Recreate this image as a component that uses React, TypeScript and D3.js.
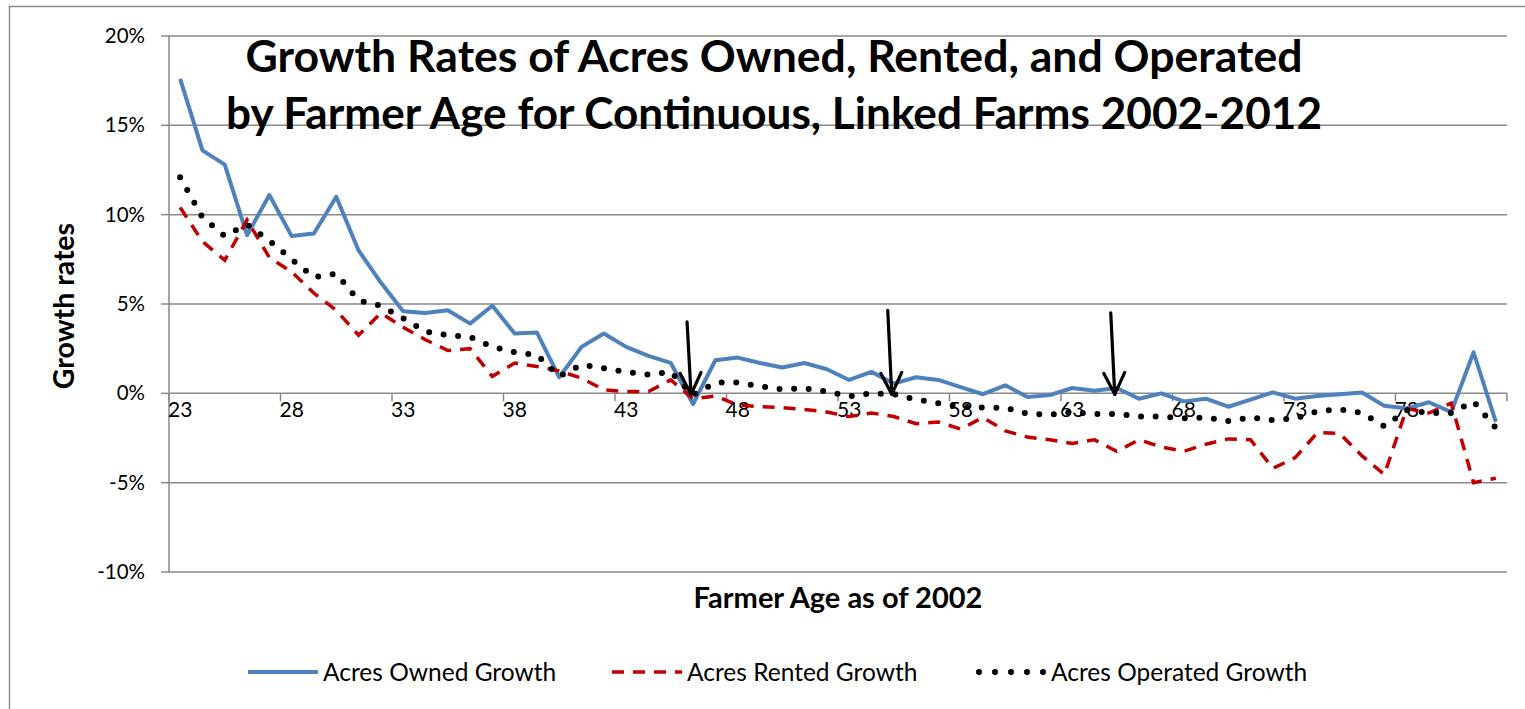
import React, { useEffect, useRef } from "react";
import * as d3 from "d3";

const ages = [23,24,25,26,27,28,29,30,31,32,33,34,35,36,37,38,39,40,41,42,43,44,45,46,47,48,49,50,51,52,53,54,55,56,57,58,59,60,61,62,63,64,65,66,67,68,69,70,71,72,73,74,75,76,77,78,79,80,81,82];

const owned = [17.6,13.6,12.8,8.85,11.1,8.8,8.95,11.0,8.0,6.2,
  4.6,4.5,4.65,3.9,4.9,3.35,3.4,0.9,2.6,3.35,
  2.6,2.1,1.7,-0.6,1.85,2.0,1.7,1.45,1.7,1.35,
  0.75,1.2,0.55,0.9,0.75,0.35,-0.05,0.45,-0.2,-0.1,
  0.3,0.15,0.3,-0.3,0.0,-0.45,-0.3,-0.75,-0.35,0.05,
  -0.3,-0.15,-0.05,0.05,-0.7,-0.85,-0.5,-1.05,2.3,-1.6];

const rented = [10.4,8.5,7.45,9.7,7.6,6.8,5.6,4.65,3.25,4.5,
  3.7,3.0,2.4,2.5,0.95,1.7,1.5,1.25,0.85,0.2,
  0.1,0.1,0.75,-0.3,-0.15,-0.65,-0.75,-0.8,-0.9,-1.05,
  -1.3,-1.1,-1.3,-1.7,-1.6,-2.0,-1.35,-2.1,-2.45,-2.6,
  -2.8,-2.6,-3.25,-2.6,-3.0,-3.25,-2.85,-2.55,-2.6,-4.2,
  -3.6,-2.2,-2.25,-3.5,-4.55,-0.85,-1.1,-0.55,-5.0,-4.75];

const operated = [12.1,9.85,8.8,9.45,8.55,7.5,6.5,6.7,5.2,4.9,
  4.2,3.45,3.25,3.15,2.6,2.3,2.15,0.95,1.6,1.4,
  1.2,1.05,1.2,-0.1,0.6,0.6,0.4,0.22,0.28,0.1,
  -0.17,0.0,-0.05,-0.35,-0.55,-0.75,-0.8,-0.8,-1.15,-1.2,
  -1.05,-1.15,-1.15,-1.3,-1.3,-1.4,-1.35,-1.55,-1.35,-1.5,
  -1.4,-1.0,-0.9,-1.1,-1.85,-0.95,-1.1,-1.1,-0.45,-1.95];

const yTicks = [-10, -5, 0, 5, 10, 15, 20];
const xLabelAges = [23, 28, 33, 38, 43, 48, 53, 58, 63, 68, 73, 78];

const seriesNames = ["Acres Owned Growth", "Acres Rented Growth", "Acres Operated Growth"];

const arrowAges = [46, 55, 65];
const arrowTops = [4.0, 4.65, 4.5];

const titleLines = [
  "Growth Rates of Acres Owned, Rented, and Operated",
  "by Farmer Age for Continuous, Linked Farms 2002-2012",
];
const titleWidths = [1057, 1096];

const FONT = "Lato, 'Open Sans', sans-serif";

export default function App() {
  const ref = useRef<SVGSVGElement | null>(null);

  useEffect(() => {
    const svg = d3.select(ref.current);
    svg.selectAll("*").remove();

    const W = 1525, H = 709;
    const left = 169, right = 1507, top = 36, bottom = 572;

    svg.append("rect").attr("x", 0).attr("y", 0).attr("width", W).attr("height", H).attr("fill", "#fff");
    svg.append("rect").attr("x", 9.5).attr("y", 6.5).attr("width", W + 20).attr("height", H + 20)
      .attr("fill", "none").attr("stroke", "#8c8c8c").attr("stroke-width", 1.5);

    const x = d3.scaleBand<number>().domain(ages).range([left, right]).paddingInner(0).paddingOuter(0);
    const bw = x.bandwidth();
    const xc = (a: number) => (x(a) as number) + bw / 2;
    const y = d3.scaleLinear().domain([-10, 20]).range([bottom, top]);

    const g = svg.append("g");
    g.selectAll("line.grid").data(yTicks.filter(t => t !== 0)).enter().append("line")
      .attr("x1", left).attr("x2", right)
      .attr("y1", d => y(d)).attr("y2", d => y(d))
      .attr("stroke", "#8a8a8a").attr("stroke-width", 1.5);

    g.append("line").attr("x1", left).attr("x2", left).attr("y1", top).attr("y2", bottom)
      .attr("stroke", "#8a8a8a").attr("stroke-width", 1.5);
    g.selectAll("line.ytick").data(yTicks).enter().append("line")
      .attr("x1", left - 8).attr("x2", left)
      .attr("y1", d => y(d)).attr("y2", d => y(d))
      .attr("stroke", "#8a8a8a").attr("stroke-width", 1.5);
    g.selectAll("text.ylab").data(yTicks).enter().append("text")
      .attr("x", 145).attr("y", d => y(d) + 7)
      .attr("text-anchor", "end").attr("font-family", FONT).attr("font-size", 20.5).attr("fill", "#000")
      .text(d => `${d}%`);

    g.append("line").attr("x1", left).attr("x2", right).attr("y1", y(0)).attr("y2", y(0))
      .attr("stroke", "#8a8a8a").attr("stroke-width", 1.5);
    const tickAges = ages.filter((a, i) => i % 5 === 0);
    const tickXs = tickAges.map(a => x(a) as number).concat([right]);
    g.selectAll("line.xtick").data(tickXs).enter().append("line")
      .attr("x1", d => d).attr("x2", d => d).attr("y1", y(0)).attr("y2", y(0) + 8)
      .attr("stroke", "#8a8a8a").attr("stroke-width", 1.5);
    g.selectAll("text.xlab").data(xLabelAges).enter().append("text")
      .attr("x", d => xc(d)).attr("y", y(0) + 24)
      .attr("text-anchor", "middle").attr("font-family", FONT).attr("font-size", 21).attr("fill", "#000")
      .text(d => String(d));

    const line = d3.line<number>().x((d, i) => xc(ages[i])).y(d => y(d));

    svg.append("path").attr("d", line(owned) as string).attr("fill", "none")
      .attr("stroke", "#4F81BD").attr("stroke-width", 4).attr("stroke-linejoin", "round");
    svg.append("path").attr("d", line(rented) as string).attr("fill", "none")
      .attr("stroke", "#C00000").attr("stroke-width", 3.5).attr("stroke-dasharray", "12 9");
    svg.append("path").attr("d", line(operated) as string).attr("fill", "none")
      .attr("stroke", "#000").attr("stroke-width", 6).attr("stroke-linecap", "round")
      .attr("stroke-dasharray", "0 14.6");

    arrowAges.forEach((a, i) => {
      const tx = xc(a) - 2, ty = y(0) + 1;
      const sx = tx - 4, sy = y(arrowTops[i]);
      const ag = svg.append("g").attr("stroke", "#000").attr("stroke-width", 3.2).attr("fill", "none")
        .attr("stroke-linecap", "round").attr("stroke-linejoin", "round");
      ag.append("line").attr("x1", sx).attr("y1", sy).attr("x2", tx).attr("y2", ty);
      ag.append("path").attr("d", `M${tx - 11},${ty - 21} L${tx},${ty} L${tx + 10},${ty - 22}`);
    });

    titleLines.forEach((t, i) => {
      svg.append("text").attr("x", 774).attr("y", 72 + i * 57)
        .attr("text-anchor", "middle").attr("font-family", FONT).attr("font-weight", "bold")
        .attr("font-size", 44).attr("textLength", titleWidths[i]).attr("lengthAdjust", "spacingAndGlyphs")
        .attr("fill", "#000").text(t);
    });

    svg.append("text").attr("transform", `translate(74,306) rotate(-90)`)
      .attr("text-anchor", "middle").attr("font-family", FONT).attr("font-weight", "bold")
      .attr("font-size", 28.5).attr("fill", "#000").text("Growth rates");
    svg.append("text").attr("x", 838).attr("y", 608)
      .attr("text-anchor", "middle").attr("font-family", FONT).attr("font-weight", "bold")
      .attr("font-size", 29).attr("fill", "#000").text("Farmer Age as of 2002");

    const legX = [248, 612, 976];
    const ly = 672;
    const styles = [
      { stroke: "#4F81BD", w: 4, dash: null as string | null, cap: "butt" },
      { stroke: "#C00000", w: 3.5, dash: "12 9", cap: "butt" },
      { stroke: "#000", w: 6, dash: "0 16", cap: "round" },
    ];
    seriesNames.forEach((n, i) => {
      const s = styles[i];
      const l = svg.append("line").attr("x1", legX[i] + (i === 2 ? 3 : 0)).attr("x2", legX[i] + 70)
        .attr("y1", ly).attr("y2", ly).attr("stroke", s.stroke).attr("stroke-width", s.w)
        .attr("stroke-linecap", s.cap);
      if (s.dash) l.attr("stroke-dasharray", s.dash);
      svg.append("text").attr("x", legX[i] + 75).attr("y", ly + 9)
        .attr("font-family", FONT).attr("font-size", 24.5).attr("fill", "#000").text(n);
    });
  }, []);

  return (
    <svg ref={ref} width={1525} height={709}
      style={{ position: "absolute", left: 0, top: 0, display: "block" }} />
  );
}
